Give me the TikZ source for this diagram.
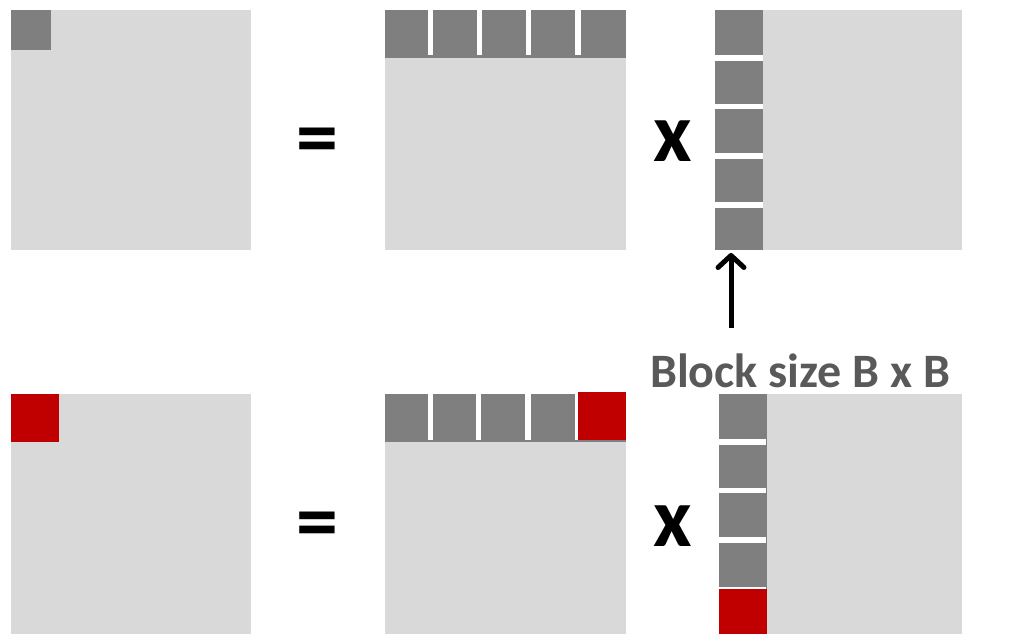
\documentclass[tikz,border=0pt]{standalone}
\usepackage{fontspec}
\setmainfont{Carlito}
\usetikzlibrary{arrows.meta}
\definecolor{lgray}{HTML}{D9D9D9}
\definecolor{dgray}{HTML}{7F7F7F}
\definecolor{bred}{HTML}{C00000}
\definecolor{tgray}{HTML}{595959}
\tikzset{
  mat/.style={fill=lgray},
  blk/.style={fill=dgray},
  hot/.style={fill=bred},
  gap/.style={fill=white},
  opsym/.style={font=\bfseries\fontsize{84}{84}\selectfont, inner sep=0pt, text=black},
  lbl/.style={font=\bfseries\fontsize{48}{48}\selectfont, inner sep=0pt, text=tgray, anchor=base west},
  ptr/.style={line width=5pt, draw=black, -{Straight Barb[length=12pt,width=26pt,round]}}
}
\begin{document}
\begin{tikzpicture}[x=1pt,y=-1pt]
\useasboundingbox (0,0) rectangle (1023,634);
% ---------- top row ----------
\fill[mat] (11,10) rectangle (251,250);
\fill[blk] (11,10) rectangle (51,50);
\node[opsym] (eq1) at (317,147) {=};
\fill[mat] (385,10) rectangle (626,250);
\fill[blk] (385,10) rectangle (626,58);
\foreach \a/\b in {428/433,477/482,526/531,575/581}
  \fill[gap] (\a,10) rectangle (\b,55);
\node[opsym] (x1) at (673,141) {x};
\fill[mat] (715,10) rectangle (962,250);
\fill[blk] (715,10) rectangle (763,250);
\foreach \a/\b in {55/61,104/109,153/159,202/208}
  \fill[gap] (715,\a) rectangle (763,\b);
\coordinate (tip) at (731,253);
\coordinate (tail) at (731,328);
\draw[ptr] (tail) -- (tip);
\node[lbl] (label) at (650,387) {Block size B x B};
% ---------- bottom row ----------
\fill[mat] (11,394) rectangle (251,634);
\fill[hot] (11,394) rectangle (59,442);
\node[opsym] (eq2) at (317,531) {=};
\fill[mat] (385,394) rectangle (626,634);
\fill[blk] (385,394) rectangle (626,442);
\foreach \a/\b in {428/433,476/481,525/531,575/578}
  \fill[gap] (\a,394) rectangle (\b,440);
\fill[hot] (578,392) rectangle (626,440);
\node[opsym] (x2) at (673,526) {x};
\fill[mat] (719,394) rectangle (962,634);
\fill[blk] (719,394) rectangle (767,634);
\foreach \a/\b in {439/445,488/493,537/543,587/589}
  \fill[gap] (719,\a) rectangle (766,\b);
\fill[hot] (719,589) rectangle (767,634);
\end{tikzpicture}
\end{document}
